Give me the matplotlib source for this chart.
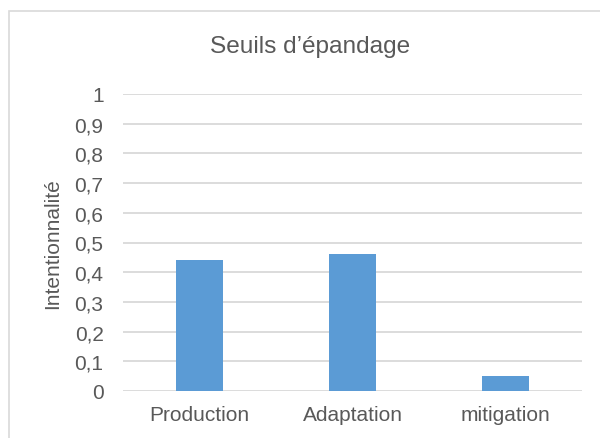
import matplotlib
matplotlib.use("Agg")
import matplotlib.pyplot as plt
from matplotlib.patches import Rectangle
from matplotlib.ticker import FuncFormatter

categories = ["Production", "Adaptation", "mitigation"]
values = [0.44, 0.46, 0.05]
yticks = [0, 0.1, 0.2, 0.3, 0.4, 0.5, 0.6, 0.7, 0.8, 0.9, 1]

TEXT = "#595959"
GRID = "#d9d9d9"
BAR = "#5b9bd5"

plt.rcParams["font.family"] = ["Liberation Sans", "DejaVu Sans"]

fig = plt.figure(figsize=(6, 4.39), dpi=100)
ax = fig.add_axes([123 / 600, 47 / 439, 459 / 600, 297 / 439])

x = range(len(categories))
ax.bar(x, values, width=0.307, color=BAR, zorder=3)

ax.set_xlim(-0.5, len(categories) - 0.5)
ax.set_ylim(0, 1)
ax.set_yticks(yticks)
ax.yaxis.set_major_formatter(FuncFormatter(lambda v, _: f"{v:g}".replace(".", ",")))
ax.set_xticks(list(x))
ax.set_xticklabels(categories)

ax.grid(axis="y", color=GRID, linewidth=1.3, zorder=0)
ax.tick_params(axis="y", length=0, pad=14, labelsize=15, labelcolor=TEXT)
ax.tick_params(axis="x", length=0, pad=10, labelsize=15, labelcolor=TEXT)
for s in ax.spines.values():
    s.set_visible(False)

fig.text(310 / 600, 1 - 53 / 439, "Seuils d\u2019épandage", ha="center",
         va="baseline", fontsize=17.6, color=TEXT)
fig.text(53 / 600, 1 - 244 / 439, "Intentionnalité", rotation=90,
         ha="center", va="center", fontsize=15, color=TEXT)

# chart frame, cut off on the right and bottom
fig.patches.append(Rectangle((9 / 600, -0.1), 1.2, (439 - 12) / 439 + 0.1,
                             transform=fig.transFigure, fill=False,
                             edgecolor=GRID, linewidth=1.2))

fig.savefig("out.png", dpi=100)
